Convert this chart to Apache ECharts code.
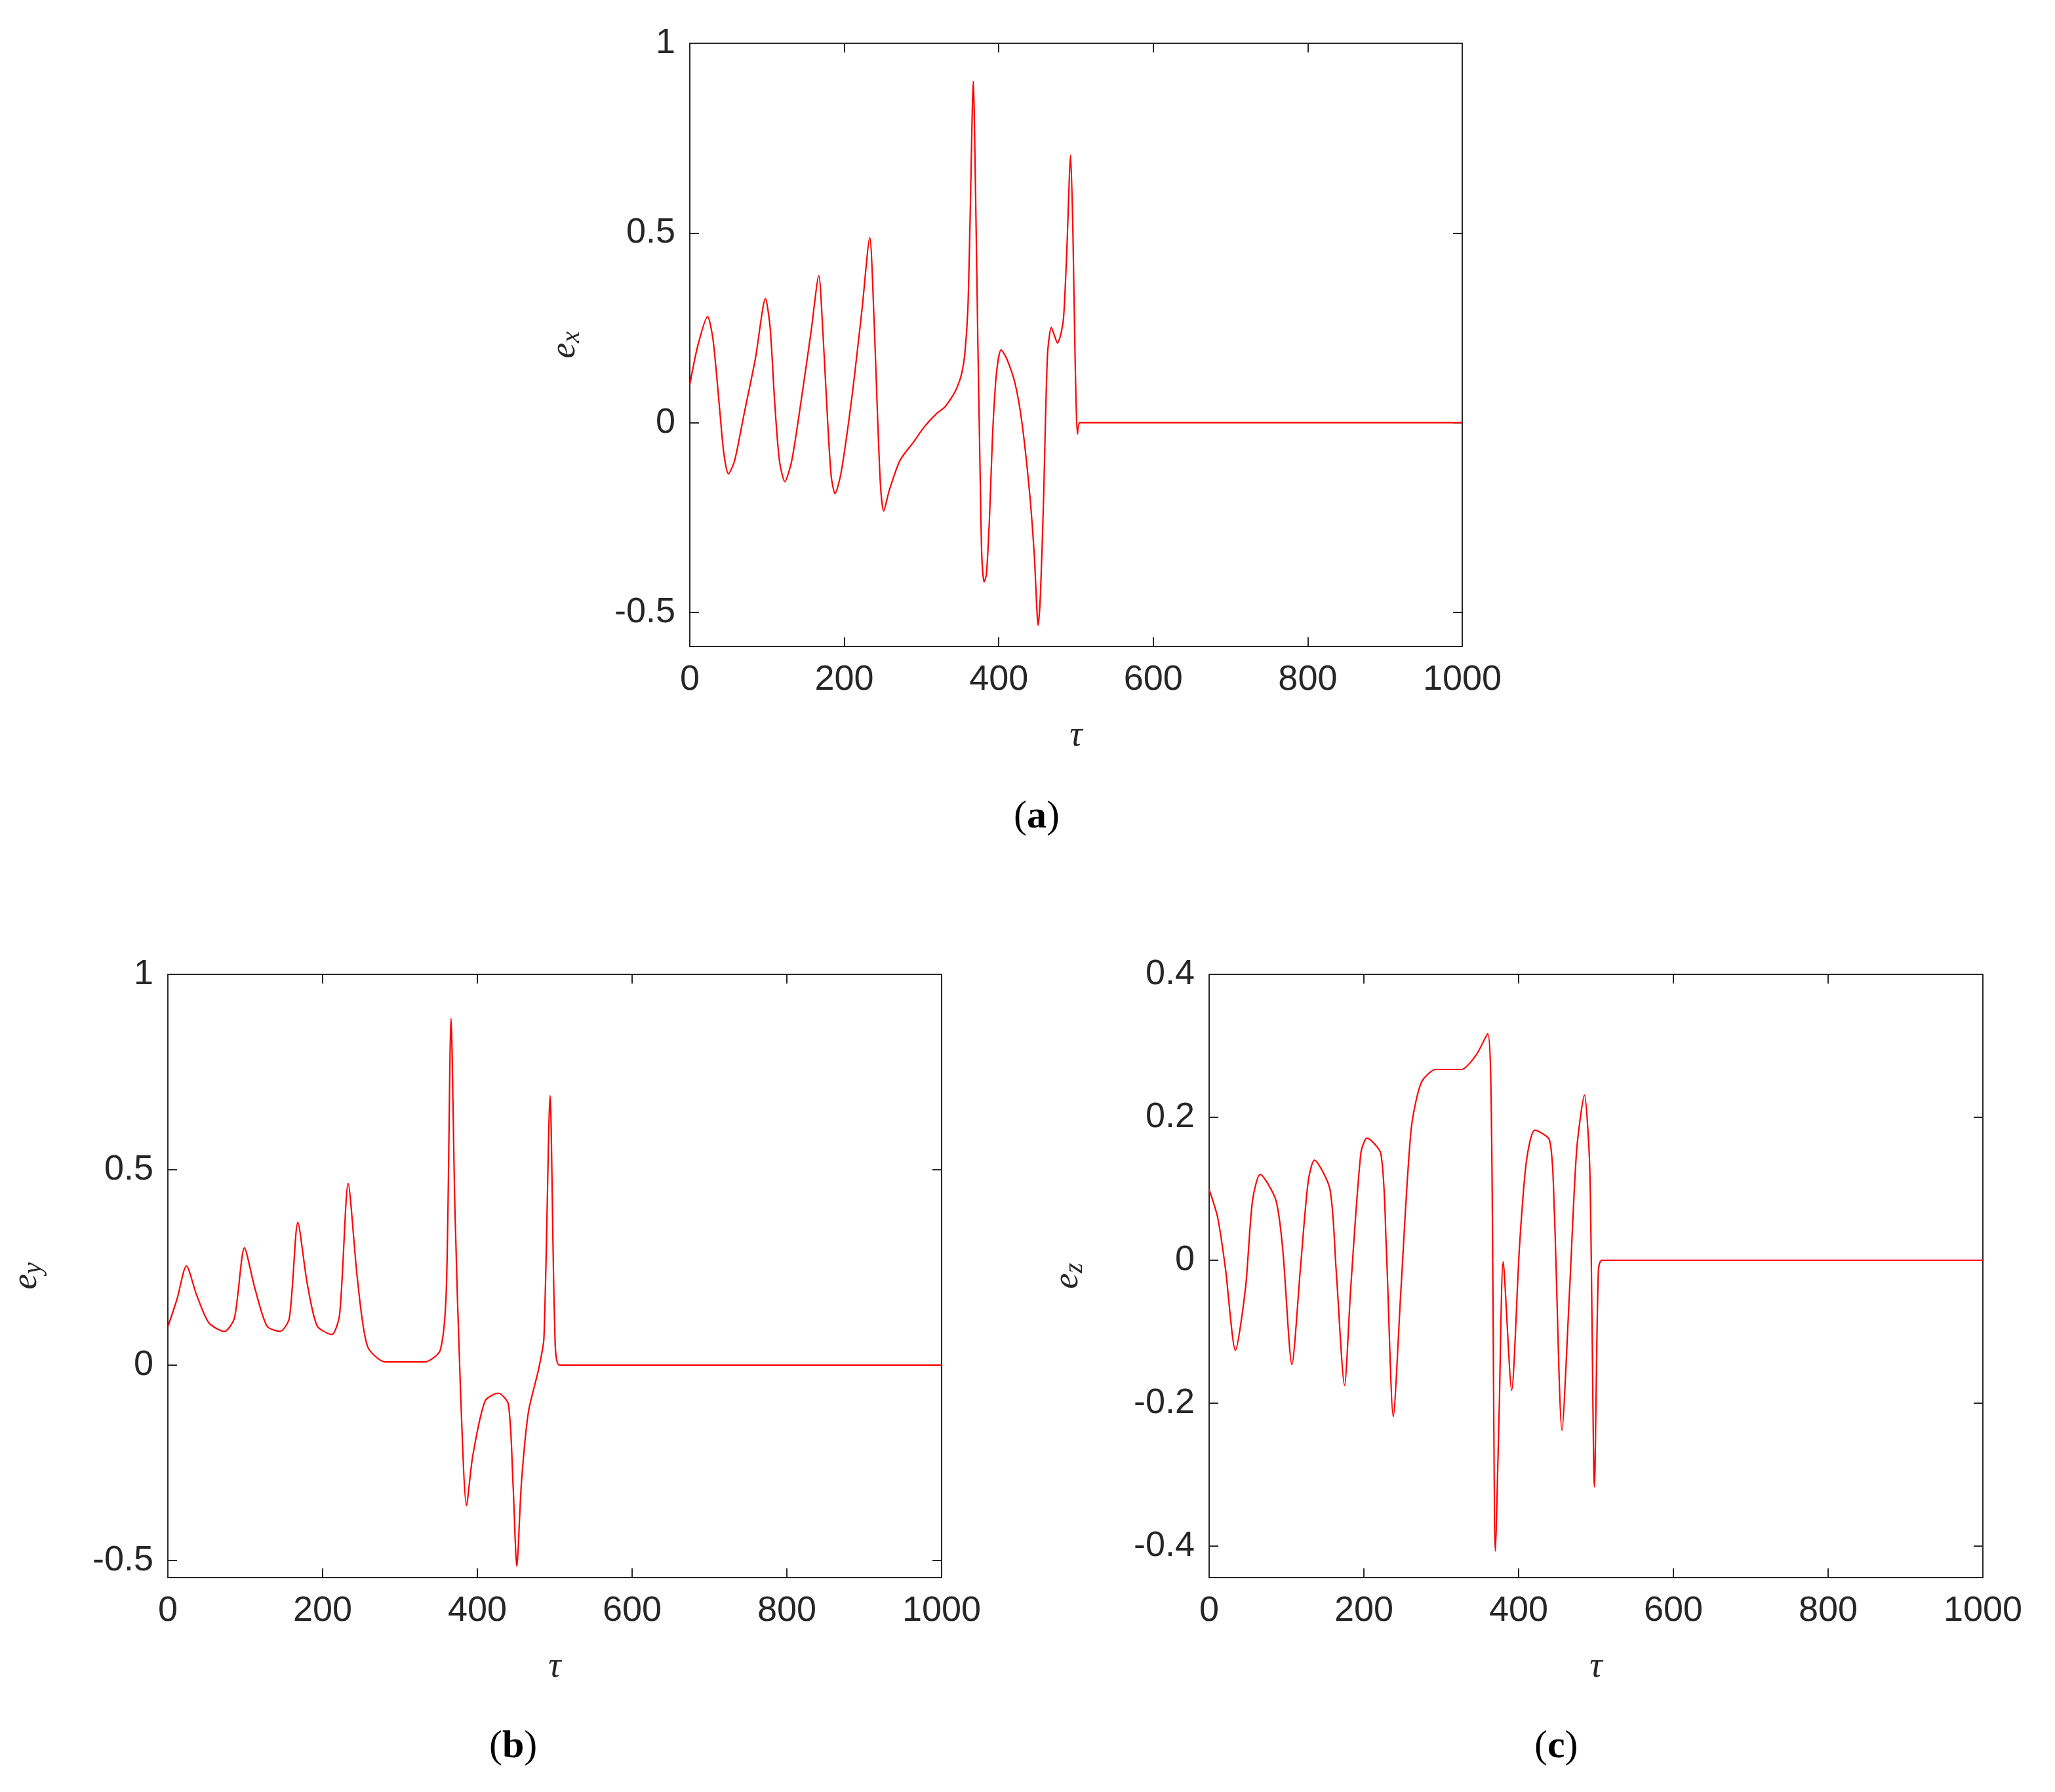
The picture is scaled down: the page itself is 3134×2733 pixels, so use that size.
<!DOCTYPE html>
<html><head><meta charset="utf-8">
<script src="https://cdn.jsdelivr.net/npm/echarts@6/dist/echarts.min.js"></script>
<style>html,body{margin:0;background:#fff}#c{width:3134px;height:2733px}</style>
</head><body><div id="c"></div>
<script>
// e_x, e_y, e_z vs tau
const EX = [[0,0.10],[10,0.2],[23,0.28],[30,0.22],[38,0.05],[44,-0.08],[50,-0.135],[58,-0.10],[70,0.02],[85,0.17],[98,0.327],[104,0.25],[110,0.05],[116,-0.10],[123,-0.155],[132,-0.10],[145,0.07],[157,0.24],[167,0.387],[172,0.25],[178,0.02],[183,-0.14],[188,-0.187],[196,-0.13],[210,0.07],[223,0.30],[233,0.488],[238,0.30],[243,0.02],[247,-0.17],[251,-0.233],[258,-0.18],[272,-0.10],[290,-0.05],[304,-0.01],[320,0.025],[330,0.041],[340,0.07],[346,0.093],[352,0.13],[356,0.18],[360,0.30],[363,0.55],[367,0.90],[370,0.60],[373,0.20],[376,-0.15],[378,-0.35],[381,-0.42],[384,-0.40],[388,-0.25],[392,-0.03],[397,0.13],[403,0.192],[410,0.17],[421,0.104],[430,0.0],[440,-0.187],[446,-0.35],[451,-0.534],[454,-0.45],[458,-0.20],[463,0.176],[468,0.251],[472,0.23],[476,0.21],[480,0.23],[484,0.28],[488,0.45],[493,0.705],[496,0.50],[499,0.15],[502,-0.03],[505,0],[1000,0]];
const EY = [[0,0.098],[12,0.17],[24,0.254],[37,0.18],[53,0.108],[73,0.086],[86,0.12],[99,0.30],[112,0.2],[128,0.10],[145,0.086],[157,0.12],[168,0.365],[180,0.21],[193,0.10],[212,0.078],[222,0.13],[233,0.465],[245,0.22],[258,0.048],[281,0.008],[332,0.008],[352,0.038],[360,0.2],[366,0.887],[371,0.4],[378,-0.052],[386,-0.36],[394,-0.233],[410,-0.092],[427,-0.072],[440,-0.10],[446,-0.30],[451,-0.515],[457,-0.30],[466,-0.12],[479,-0.012],[486,0.068],[494,0.69],[500,0.098],[506,0],[1000,0]];
const EZ = [[0,0.099],[11,0.06],[21,-0.011],[34,-0.126],[47,-0.039],[56,0.083],[66,0.12],[86,0.085],[95,0.017],[107,-0.146],[118,-0.011],[128,0.11],[136,0.14],[156,0.10],[164,-0.011],[175,-0.175],[183,-0.039],[196,0.149],[204,0.171],[222,0.149],[229,0.017],[238,-0.219],[248,-0.039],[261,0.182],[274,0.248],[293,0.267],[326,0.267],[345,0.287],[360,0.317],[365,0.182],[370,-0.407],[375,-0.204],[380,-0.002],[391,-0.182],[401,0.017],[410,0.138],[421,0.182],[440,0.168],[446,0.072],[456,-0.238],[466,-0.039],[475,0.154],[485,0.231],[492,0.127],[498,-0.317],[503,-0.017],[508,0],[1000,0]];
const X_TICKS = [0,200,400,600,800,1000];
const YA_TICKS = [-0.5,0,0.5,1];
const YB_TICKS = [-0.5,0,0.5,1];
const YC_TICKS = [-0.4,-0.2,0,0.2,0.4];

const chart = echarts.init(document.getElementById('c'));
const AX = '#262626', FS = 54, FONT = 'Liberation Sans';
const grids = [
  { left: 1052, top: 66, width: 1178, height: 920 },
  { left: 256, top: 1486, width: 1180, height: 920 },
  { left: 1844, top: 1486, width: 1180, height: 920 },
];
const panels = [
  { data: EX, ymin: -0.59, ymax: 1, ticks: YA_TICKS, sub: 'x' },
  { data: EY, ymin: -0.544, ymax: 1, ticks: YB_TICKS, sub: 'y' },
  { data: EZ, ymin: -0.444, ymax: 0.4, ticks: YC_TICKS, sub: 'z' },
];
const fmt = v => String(v);

const xAxis = [], yAxis = [], series = [];
panels.forEach((p, i) => {
  const line = { show: true, onZero: false, lineStyle: { color: AX, width: 2 } };
  const tick = { show: true, inside: true, length: 14, lineStyle: { color: AX, width: 2 } };
  xAxis.push({
    gridIndex: i, type: 'value', min: 0, max: 1000, position: 'bottom',
    axisLine: line, axisTick: { ...tick, customValues: X_TICKS }, splitLine: { show: false },
    axisLabel: { customValues: X_TICKS, formatter: fmt, color: AX, fontSize: FS, fontFamily: FONT, margin: 24 },
    name: 'τ', nameLocation: 'middle', nameGap: 110,
    nameTextStyle: { fontFamily: 'Liberation Serif', fontStyle: 'italic', fontSize: 54, color: AX },
  });
  xAxis.push({
    gridIndex: i, type: 'value', min: 0, max: 1000, position: 'top',
    axisLine: line, axisTick: { ...tick, customValues: X_TICKS }, axisLabel: { show: false }, splitLine: { show: false },
  });
  yAxis.push({
    gridIndex: i, type: 'value', min: p.ymin, max: p.ymax, position: 'left',
    axisLine: line, axisTick: { ...tick, customValues: p.ticks }, splitLine: { show: false },
    axisLabel: { customValues: p.ticks, formatter: fmt, color: AX, fontSize: FS, fontFamily: FONT, margin: 22 },
    name: '{e|e}{s|' + p.sub + '}', nameLocation: 'middle', nameGap: i === 0 ? 160 : 185, nameRotate: 90,
    nameTextStyle: { rich: {
      e: { fontFamily: 'Liberation Serif', fontStyle: 'italic', fontSize: 54, color: AX },
      s: { fontFamily: 'Liberation Serif', fontStyle: 'italic', fontSize: 40, color: AX, verticalAlign: 'bottom', padding: [20, 0, 0, 0] },
    } },
  });
  yAxis.push({
    gridIndex: i, type: 'value', min: p.ymin, max: p.ymax, position: 'right',
    axisLine: line, axisTick: { ...tick, customValues: p.ticks }, axisLabel: { show: false }, splitLine: { show: false },
  });
  series.push({
    type: 'line', xAxisIndex: i * 2, yAxisIndex: i * 2, data: p.data,
    symbol: 'none', smooth: 0.25,
    lineStyle: { color: '#ff0000', width: 2.2 }, clip: true,
  });
});

const cap = (t, x, y) => ({
  type: 'text', left: x, top: y,
  style: { text: '{p|(}{b|' + t + '}{p|)}', rich: {
    p: { fontFamily: 'Liberation Serif', fontSize: 60, fill: '#000' },
    b: { fontFamily: 'Liberation Serif', fontSize: 60, fontWeight: 'bold', fill: '#000' },
  } },
});

chart.setOption({
  backgroundColor: '#fff', animation: false,
  grid: grids,
  xAxis, yAxis, series,
  graphic: [cap('a', 1546, 1216), cap('b', 746, 2634), cap('c', 2340, 2634)],
});
</script></body></html>
